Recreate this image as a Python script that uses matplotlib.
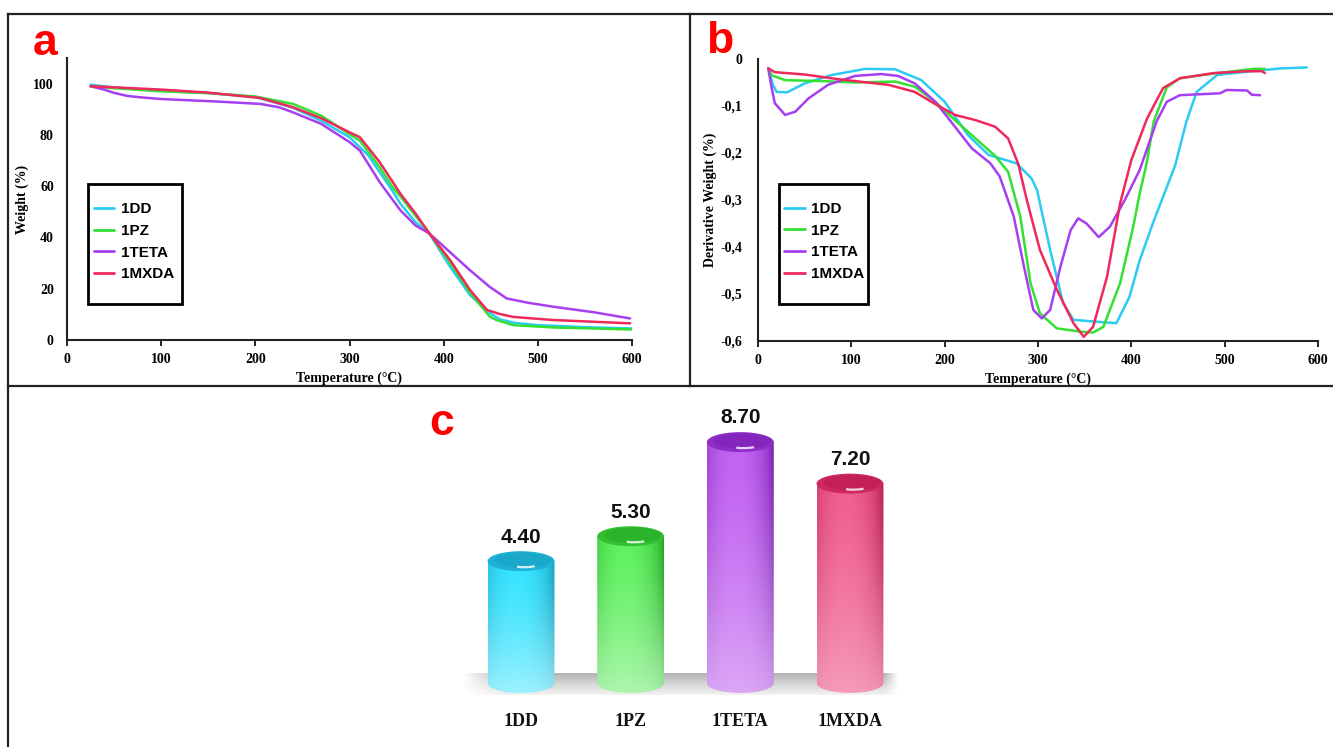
import numpy as np
import matplotlib
matplotlib.use("Agg")
import matplotlib.pyplot as plt
from matplotlib.colors import to_rgb
from matplotlib.patches import Ellipse, Rectangle, Arc
from matplotlib.path import Path
from matplotlib.lines import Line2D

# ---- panel a: TGA weight (%) vs temperature ----
t_dd_a = [25, 50, 100, 150, 200, 240, 270, 300, 320, 332, 345, 354, 370, 385, 400, 407, 428, 449, 460, 475, 500, 550, 600]
w_dd_a = [99.6, 98.5, 97.2, 96.3, 94.8, 90.6, 85.5, 79.1, 72.0, 65.5, 58.5, 53.2, 46.0, 41.5, 32.5, 28.5, 17.5, 10.5, 8.0, 6.7, 5.8, 5.0, 4.5]
t_pz_a = [25, 50, 100, 150, 200, 240, 270, 300, 311, 332, 345, 354, 370, 385, 407, 428, 449, 456, 474, 516, 600]
w_pz_a = [99.0, 98.2, 97.0, 96.3, 95.0, 92.1, 87.5, 80.3, 77.8, 67.4, 60.0, 56.0, 48.5, 41.5, 30.0, 18.5, 9.1, 7.8, 5.8, 4.9, 4.1]
t_teta_a = [25, 40, 50, 64, 80, 100, 130, 160, 205, 225, 240, 270, 300, 311, 332, 354, 370, 385, 403, 428, 449, 467, 490, 516, 560, 598]
w_teta_a = [99.0, 97.6, 96.4, 95.2, 94.6, 94.0, 93.5, 93.0, 92.1, 90.8, 88.8, 84.3, 77.2, 73.9, 61.6, 50.6, 44.7, 41.5,
            35.5, 27.2, 20.7, 16.2, 14.5, 13.0, 10.8, 8.4]
t_mxda_a = [25, 99, 150, 205, 240, 270, 300, 311, 332, 354, 370, 385, 407, 428, 446, 460, 474, 516, 598]
w_mxda_a = [99.0, 97.7, 96.5, 94.4, 90.8, 86.5, 81.0, 79.1, 69.4, 57.1, 49.4, 41.5, 31.1, 19.5, 11.7, 10.1, 9.0, 7.8, 6.5]

# ---- panel b: DTG derivative weight vs temperature ----
t_dd_b = [11, 16, 20, 31, 50, 79, 115, 147, 175, 200, 225, 247, 277, 293, 299, 313, 327, 338, 363, 384, 398, 409, 423, 447, 459, 470, 492, 524, 560, 588]
d_dd_b = [-0.020, -0.055, -0.070, -0.071, -0.052, -0.034, -0.021, -0.022, -0.045, -0.091, -0.162, -0.204, -0.222, -0.254,
          -0.279, -0.406, -0.520, -0.555, -0.559, -0.562, -0.506, -0.428, -0.350, -0.226, -0.133, -0.070, -0.034, -0.027, -0.020, -0.018]
t_pz_b = [11, 15, 29, 68, 104, 147, 168, 190, 211, 233, 254, 268, 281, 292, 302, 320, 345, 359, 370, 388, 402, 409, 416, 424, 438, 452, 488, 531, 543]
d_pz_b = [-0.020, -0.035, -0.045, -0.047, -0.050, -0.048, -0.059, -0.091, -0.130, -0.169, -0.206, -0.240, -0.335, -0.477,
          -0.541, -0.573, -0.580, -0.582, -0.570, -0.477, -0.357, -0.286, -0.226, -0.133, -0.060, -0.041, -0.031, -0.021, -0.021]
t_teta_b = [11, 14, 18, 29, 40, 54, 75, 104, 132, 150, 168, 190, 211, 229, 249, 259, 274, 285, 295, 304, 313, 324, 335,
            343, 352, 365, 377, 393, 409, 427, 438, 452, 495, 502, 524, 529, 538]
d_teta_b = [-0.020, -0.055, -0.094, -0.119, -0.112, -0.084, -0.055, -0.036, -0.032, -0.036, -0.052, -0.091, -0.144, -0.190,
            -0.222, -0.250, -0.335, -0.442, -0.534, -0.552, -0.534, -0.442, -0.364, -0.339, -0.350, -0.379, -0.357, -0.300,
            -0.236, -0.133, -0.091, -0.077, -0.073, -0.066, -0.067, -0.076, -0.077]
t_mxda_b = [11, 18, 50, 86, 140, 168, 190, 211, 233, 254, 268, 279, 288, 302, 320, 338, 349, 359, 374, 388, 400, 417, 434, 452, 488, 524, 540, 543]
d_mxda_b = [-0.020, -0.028, -0.033, -0.043, -0.055, -0.070, -0.096, -0.119, -0.130, -0.144, -0.169, -0.224, -0.300, -0.406,
            -0.490, -0.562, -0.591, -0.570, -0.463, -0.307, -0.215, -0.126, -0.062, -0.041, -0.030, -0.026, -0.026, -0.030]

# ---- panel c: bar values ----
samples = ['1DD', '1PZ', '1TETA', '1MXDA']
bar_values = [4.40, 5.30, 8.70, 7.20]

line_colors = ['#2ccbf2', '#33e033', '#a63ff0', '#f0285c']
# (edge, centre, bottom, cap) colours for the cylinders
bar_shades = [('#1597b8', '#35e4ff', '#b5f5ff', '#1fb2d6'),
              ('#1f9e1f', '#5ef25e', '#c2f7c2', '#32bf32'),
              ('#7219aa', '#c263f2', '#e3b8f7', '#8f2ec7'),
              ('#b01549', '#f0608e', '#f8aac2', '#cc2760')]

W, H = 1333, 747
def fx(px):
    return px / W
def fy(py):
    return 1 - py / H

serif = 'Liberation Serif'
sans = 'Liberation Sans'

fig = plt.figure(figsize=(W / 100, H / 100), dpi=100)

# panel frames
frame_kw = dict(color='#222222', lw=1.6, transform=fig.transFigure)
fig.add_artist(Line2D([fx(8), fx(1333)], [fy(14), fy(14)], **frame_kw))
fig.add_artist(Line2D([fx(8), fx(8)], [fy(14), fy(747)], **frame_kw))
fig.add_artist(Line2D([fx(8), fx(1333)], [fy(386), fy(386)], **frame_kw))
fig.add_artist(Line2D([fx(690), fx(690)], [fy(14), fy(386)], **frame_kw))


def style_axes(ax, ypad):
    for s in ['top', 'right']:
        ax.spines[s].set_visible(False)
    for s in ['left', 'bottom']:
        ax.spines[s].set_linewidth(1.5)
        ax.spines[s].set_color('#222222')
    ax.tick_params(axis='x', length=4, width=1.2, pad=5.5, direction='out')
    ax.tick_params(axis='y', length=0, pad=ypad)
    for lab in ax.get_xticklabels() + ax.get_yticklabels():
        lab.set_fontfamily(serif)
        lab.set_fontweight('bold')
        lab.set_fontsize(10)
    ax.set_xlabel('Temperature (\u00b0C)', fontfamily=serif, fontweight='bold', fontsize=10)
    ax.xaxis.set_label_coords(0.5, -0.11)


def add_legend(ax, box, anchor, lines):
    ax.add_patch(Rectangle((box[0], box[1]), box[2], box[3], transform=ax.transAxes,
                           fill=False, ec='black', lw=2, clip_on=False, zorder=5))
    leg = ax.legend(lines, samples, loc='upper left', bbox_to_anchor=anchor, frameon=False,
                    borderpad=0, handlelength=1.35, handletextpad=0.4, labelspacing=0.5,
                    prop=dict(family=sans, weight='bold', size=11))
    for h in leg.get_lines():
        h.set_linewidth(2)


# ---- panel a ----
ax_a = fig.add_axes([fx(67), fy(340), fx(632) - fx(67), fy(58) - fy(340)])
lines_a = []
for t, w, c in zip([t_dd_a, t_pz_a, t_teta_a, t_mxda_a], [w_dd_a, w_pz_a, w_teta_a, w_mxda_a], line_colors):
    ln, = ax_a.plot(t, w, color=c, lw=1.8, solid_capstyle='round', solid_joinstyle='round')
    lines_a.append(ln)
ax_a.set_xlim(0, 600)
ax_a.set_ylim(0, 110)
ax_a.set_xticks(range(0, 601, 100))
ax_a.set_yticks(range(0, 101, 20))
style_axes(ax_a, 9.5)
ax_a.set_ylabel('Weight (%)', fontfamily=serif, fontweight='bold', fontsize=10)
ax_a.yaxis.set_label_coords(-0.068, 0.5)
add_legend(ax_a, (0.037, 0.128, 0.167, 0.425), (0.034, 0.515), lines_a)

# ---- panel b ----
ax_b = fig.add_axes([fx(758), fy(341), fx(1318) - fx(758), fy(59) - fy(341)])
lines_b = []
for t, d, c in zip([t_dd_b, t_pz_b, t_teta_b, t_mxda_b], [d_dd_b, d_pz_b, d_teta_b, d_mxda_b], line_colors):
    ln, = ax_b.plot(t, d, color=c, lw=1.8, solid_capstyle='round', solid_joinstyle='round')
    lines_b.append(ln)
ax_b.set_xlim(0, 600)
ax_b.set_ylim(-0.6, 0)
ax_b.set_xticks(range(0, 601, 100))
b_ticks = [0, -0.1, -0.2, -0.3, -0.4, -0.5, -0.6]
ax_b.set_yticks(b_ticks)
ax_b.set_yticklabels(['0', '-0,1', '-0,2', '-0,3', '-0,4', '-0,5', '-0,6'])
style_axes(ax_b, 11)
ax_b.set_ylabel('Derivative Weight (%)', fontfamily=serif, fontweight='bold', fontsize=10)
ax_b.yaxis.set_label_coords(-0.074, 0.5)
add_legend(ax_b, (0.0375, 0.131, 0.159, 0.426), (0.033, 0.52), lines_b)

# ---- panel c: cylinders ----
ax_c = fig.add_axes([fx(440), fy(740), fx(930) - fx(440), fy(400) - fy(740)])
ax_c.set_axis_off()
n = len(samples)
xs = np.arange(n)
bw = 0.61
eh = 0.72

# floor shadow
fl_x0, fl_x1 = -0.54, n - 1 + 0.44
fl_y0, fl_y1 = -0.43, 0.36
gy = np.linspace(0, 1, 60)[:, None]
gx = np.linspace(0, 1, 200)[None, :]
gray = 0.9 - 0.2 * gy ** 0.7 + 0 * gx
alpha = np.clip(gx / 0.1, 0, 1) * np.clip((1 - gx) / 0.03, 0, 1) * (0.45 + 0.55 * gy) + 0 * gy
shadow = np.dstack([gray, gray, gray, alpha])
ax_c.imshow(shadow, extent=[fl_x0, fl_x1, fl_y0, fl_y1], origin='lower', aspect='auto',
            interpolation='bilinear', zorder=1)


def cyl_image(edge, mid, bottom, nx=90, ny=160):
    u = np.linspace(-1, 1, nx)
    t = np.clip(1 - ((u + 0.15) / 1.15) ** 2, 0, 1) ** 0.6
    e, m, b = np.array(to_rgb(edge)), np.array(to_rgb(mid)), np.array(to_rgb(bottom))
    row = e[None, :] * (1 - t[:, None]) + m[None, :] * t[:, None]
    v = np.linspace(0, 1, ny)
    wb = (1 - v) ** 1.4 * 0.8
    img = row[None, :, :] * (1 - wb[:, None, None]) + b[None, None, :] * wb[:, None, None]
    return np.clip(img, 0, 1)


theta = np.linspace(np.pi, 2 * np.pi, 60)
for x, v, (ec, mc, bc, cc), lab in zip(xs, bar_values, bar_shades, samples):
    x0, x1 = x - bw / 2, x + bw / 2
    pts = [(x0, v), (x0, 0)]
    pts += [(x + bw / 2 * np.cos(a), eh / 2 * np.sin(a)) for a in theta]
    pts += [(x1, 0), (x1, v), (x0, v)]
    im = ax_c.imshow(cyl_image(ec, mc, bc), extent=[x0, x1, -eh / 2, v], origin='lower',
                     aspect='auto', interpolation='bilinear', zorder=3)
    im.set_clip_path(Path(pts), ax_c.transData)
    ax_c.add_patch(Ellipse((x, v), bw, eh, fc=cc, ec='none', zorder=4))
    ax_c.add_patch(Ellipse((x + 0.02, v + 0.03), bw * 0.86, eh * 0.78, fc=ec, ec='none', alpha=0.35, zorder=4))
    ax_c.add_patch(Arc((x + 0.03, v - 0.02), bw * 0.55, eh * 0.55, theta1=250, theta2=300,
                       color='white', lw=1.6, alpha=0.8, zorder=5))
    ax_c.text(x, v + 0.87, f'{v:.2f}', ha='center', va='center', fontfamily=sans,
              fontweight='bold', fontsize=15, color='#111111', zorder=6)
    ax_c.text(x, -1.40, lab, ha='center', va='center', fontfamily=serif,
              fontweight='bold', fontsize=13, color='#111111')

ax_c.set_xlim(-0.739, 3.73)
ax_c.set_ylim(-2.06, 10.22)

# panel letters
letter_kw = dict(color='#ff0000', fontfamily=sans, fontweight='bold', fontsize=32, va='baseline', ha='left')
fig.text(fx(33), fy(55), 'a', **letter_kw)
fig.text(fx(706), fy(53), 'b', **letter_kw)
fig.text(fx(429), fy(435), 'c', **letter_kw)

fig.savefig('out.png', dpi=100)
